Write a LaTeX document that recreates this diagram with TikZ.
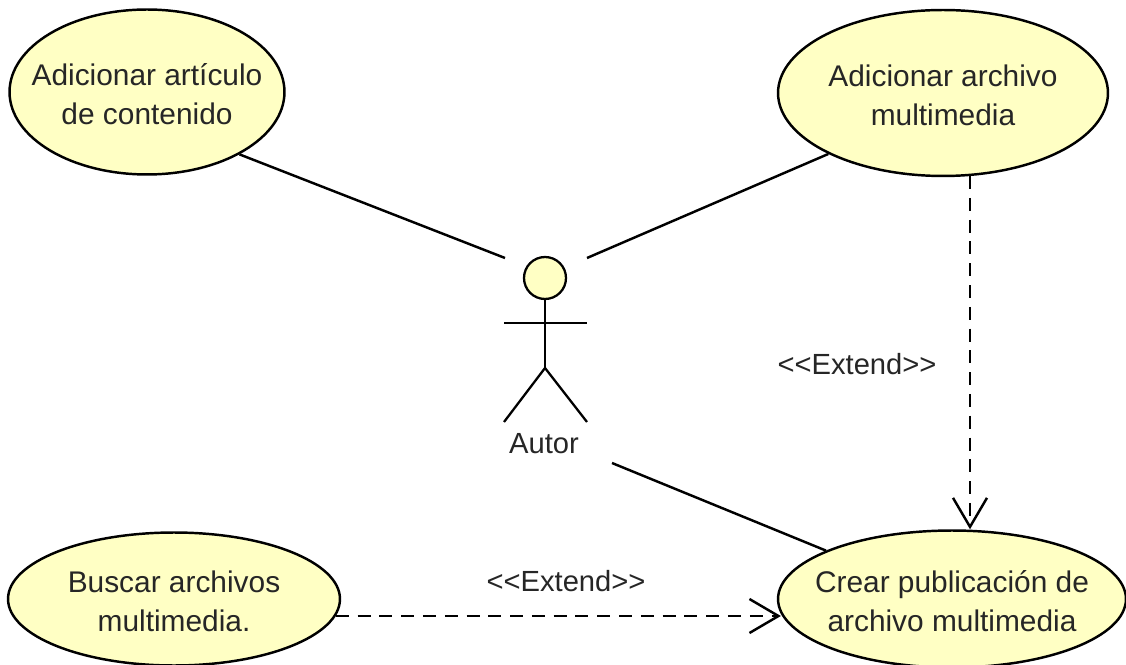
\documentclass[tikz,border=0pt]{standalone}
\usepackage{fontspec}
\setmainfont{Liberation Sans}
\usetikzlibrary{positioning,arrows.meta,shapes.geometric}
\definecolor{ucfill}{HTML}{FFFFC4}
\newcommand{\ucname}[2]{\makebox[0pt]{\raisebox{-7pt}[0pt][0pt]{\begin{tabular}{@{}c@{}}#1\\#2\end{tabular}}}}
\tikzset{
  usecase/.style={ellipse, draw, fill=ucfill, line width=1.4pt, inner sep=0pt,
                  font=\fontsize{17}{22.2}\selectfont, text=black!85},
  lbl/.style={font=\fontsize{16.6}{22.2}\selectfont, text=black!85, inner sep=0pt},
  assoc/.style={line width=1.4pt},
  extend/.style={-{Straight Barb[length=5.8mm,width=6.8mm,line width=1.4pt]}, line width=1.4pt,
                 dash pattern=on 7.4pt off 5pt},
  limb/.style={line width=1.3pt},
}
\begin{document}
\begin{tikzpicture}[x=0.02cm, y=-0.02cm]
\useasboundingbox (0,0) rectangle (1126,665);
%Nodes
\node[usecase, minimum width=5.5cm, minimum height=3.3cm] (articulo) at (147,92) {\ucname{Adicionar artículo}{de contenido}};
\node[usecase, minimum width=6.6cm, minimum height=3.32cm] (archivo) at (943,93) {\ucname{Adicionar archivo}{multimedia}};
\node[usecase, minimum width=6.64cm, minimum height=2.66cm] (buscar) at (174,599) {\ucname{Buscar archivos}{multimedia.}};
\node[usecase, minimum width=6.96cm, minimum height=2.74cm] (crear) at (952,599) {\ucname{Crear publicación de}{archivo multimedia}};
\node[circle, draw, fill=ucfill, line width=1.3pt, minimum size=0.84cm, inner sep=0pt] (head) at (545,278) {};
\node[lbl] (autor) at (544,444) {Autor};
\node[lbl] (extend1) at (857,364) {<{}<Extend>{}>};
\node[lbl] (extend2) at (566,581) {<{}<Extend>{}>};

%Actor
\coordinate (hip) at (545,368);
\coordinate (armL) at (504,323);
\coordinate (armR) at (587,323);
\coordinate (footL) at (504,422);
\coordinate (footR) at (587,422);
\draw[limb] (head.south) -- (hip);
\draw[limb] (armL) -- (armR);
\draw[limb] (footL) -- (hip) -- (footR);

%Lines
\coordinate (endA) at (505,258);
\coordinate (endB) at (587,258);
\coordinate (endC) at (612,463);
\draw[assoc] (articulo.-34) -- (endA);
\draw[assoc] (archivo.-152) -- (endB);
\draw[assoc] (endC) -- (crear.159);
\draw[extend] (archivo.-72) -- (archivo.-72 |- crear.north);
\draw[extend] (buscar.-6) -- (buscar.-6 -| crear.185);
\end{tikzpicture}
\end{document}
